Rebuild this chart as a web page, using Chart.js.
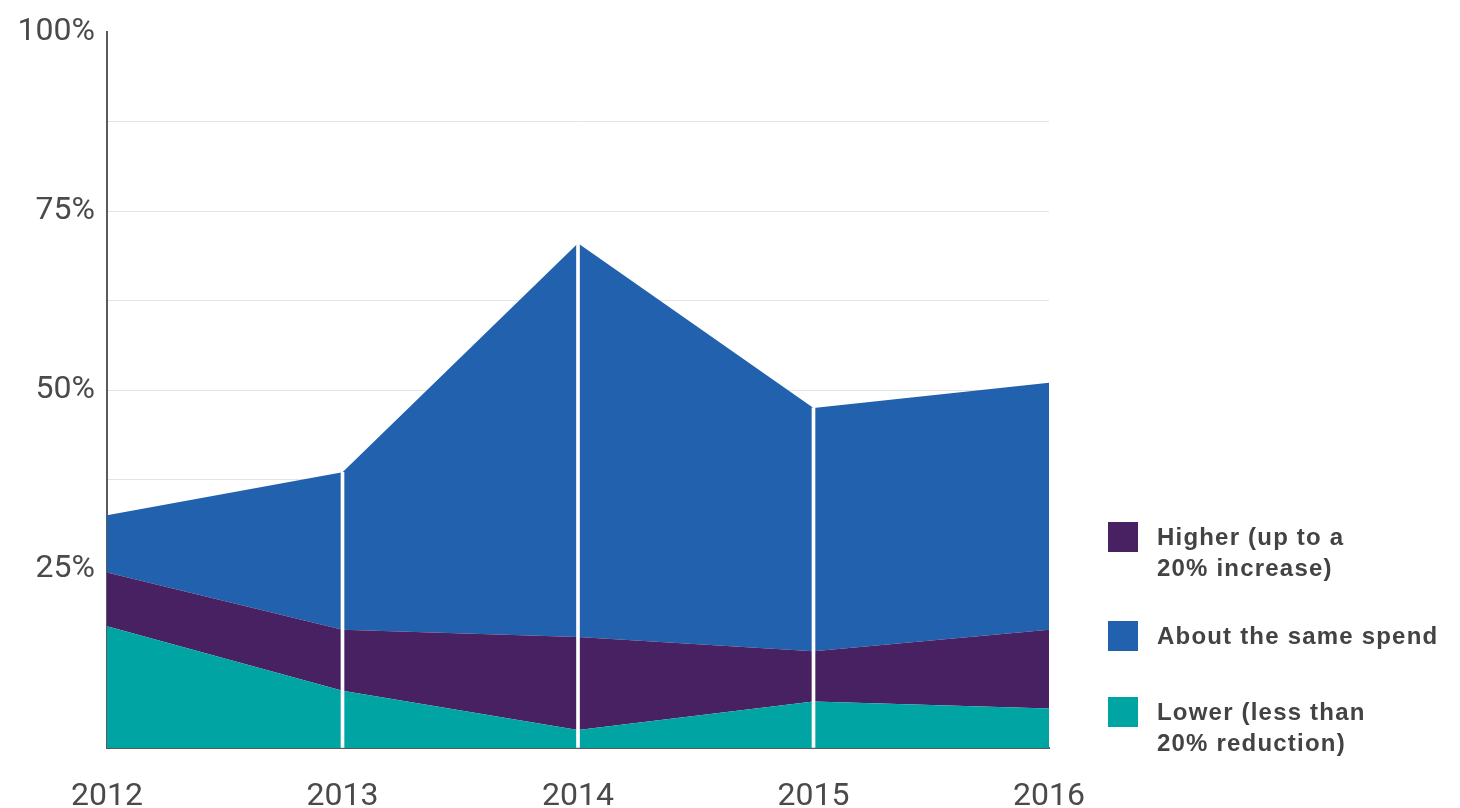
<!DOCTYPE html>
<html>
<head>
<meta charset="utf-8">
<script src="https://cdn.jsdelivr.net/npm/chart.js@4"></script>
<style>
  html, body { margin: 0; padding: 0; background: #fff; }
  #wrap { position: relative; width: 1460px; height: 808px; }
  #legend { position: absolute; left: 1108px; top: 0; font-family: "Liberation Sans", Arial, sans-serif; font-weight: bold; font-size: 24px; letter-spacing: 1.2px; color: #434343; }
  .item { position: absolute; left: 0; width: 360px; }
  .box { position: absolute; left: 0; width: 30px; height: 30px; }
  .txt { position: absolute; left: 49px; line-height: 31px; white-space: nowrap; }
</style>
</head>
<body>
<div id="wrap">
  <canvas id="chart" width="1460" height="808"></canvas>
  <div id="legend"></div>
</div>
<script>
const years = ["2012", "2013", "2014", "2015", "2016"];

// stacked from the bottom up
const lower = [17, 8, 2.5, 6.5, 5.5];
const higher = [7.5, 8.5, 13, 7, 11];
const same = [8, 22, 55, 34, 34.5];

const yTicks = [25, 50, 75, 100];

const COLOR_LOWER = "#00a4a2";
const COLOR_HIGHER = "#472161";
const COLOR_SAME = "#2261ad";

// white markers run from the top of the stack down to zero at the inner years
const markers = years.map((y, i) =>
  i === 0 || i === years.length - 1 ? null : lower[i] + higher[i] + same[i]
);

const legendItems = [
  { lines: ["Higher (up to a", "20% increase)"], color: COLOR_HIGHER, top: 522 },
  { lines: ["About the same spend"], color: COLOR_SAME, top: 621 },
  { lines: ["Lower (less than", "20% reduction)"], color: COLOR_LOWER, top: 697 },
];

const legend = document.getElementById("legend");
legendItems.forEach((item) => {
  const div = document.createElement("div");
  div.className = "item";
  div.style.top = item.top + "px";
  const box = document.createElement("div");
  box.className = "box";
  box.style.background = item.color;
  const txt = document.createElement("div");
  txt.className = "txt";
  txt.style.top = "-1px";
  txt.innerHTML = item.lines.join("<br>");
  div.appendChild(box);
  div.appendChild(txt);
  legend.appendChild(div);
});

const area = (label, data, color, fill) => ({
  type: "line",
  label,
  data,
  backgroundColor: color,
  borderWidth: 0,
  pointRadius: 0,
  tension: 0,
  fill,
  order: 1,
});

new Chart(document.getElementById("chart"), {
  data: {
    labels: years,
    datasets: [
      area("Lower (less than 20% reduction)", lower, COLOR_LOWER, "origin"),
      area("Higher (up to a 20% increase)", higher, COLOR_HIGHER, "-1"),
      area("About the same spend", same, COLOR_SAME, "-1"),
      {
        type: "bar",
        label: "markers",
        data: markers,
        backgroundColor: "#ffffff",
        barThickness: 3,
        order: 0,
      },
    ],
  },
  options: {
    responsive: false,
    animation: false,
    events: [],
    layout: { padding: { top: 32, right: 411, bottom: 0, left: 0 } },
    plugins: { legend: { display: false }, tooltip: { enabled: false } },
    scales: {
      x: {
        offset: false,
        grid: { display: false, offset: false },
        border: { display: true, color: "#5a5a5a", width: 2 },
        ticks: {
          padding: 22,
          maxRotation: 0,
          color: "#4a4a4a",
          font: { family: "Roboto", weight: 400, size: 32 },
        },
        afterFit: (axis) => { axis.height = 60; },
      },
      y: {
        stacked: true,
        min: 0,
        max: 100,
        ticks: {
          stepSize: 12.5,
          padding: 12,
          color: "#4a4a4a",
          font: { family: "Roboto", weight: 400, size: 32 },
          callback: (v) => (yTicks.includes(v) ? v + "%" : ""),
        },
        grid: {
          drawTicks: false,
          lineWidth: 1,
          color: (ctx) => (ctx.tick && (ctx.tick.value === 100 || ctx.tick.value === 0) ? "rgba(0,0,0,0)" : "#e3e3e3"),
        },
        border: { display: true, color: "#5a5a5a", width: 2 },
        afterFit: (axis) => { axis.width = 107; },
      },
    },
  },
});
</script>
</body>
</html>
